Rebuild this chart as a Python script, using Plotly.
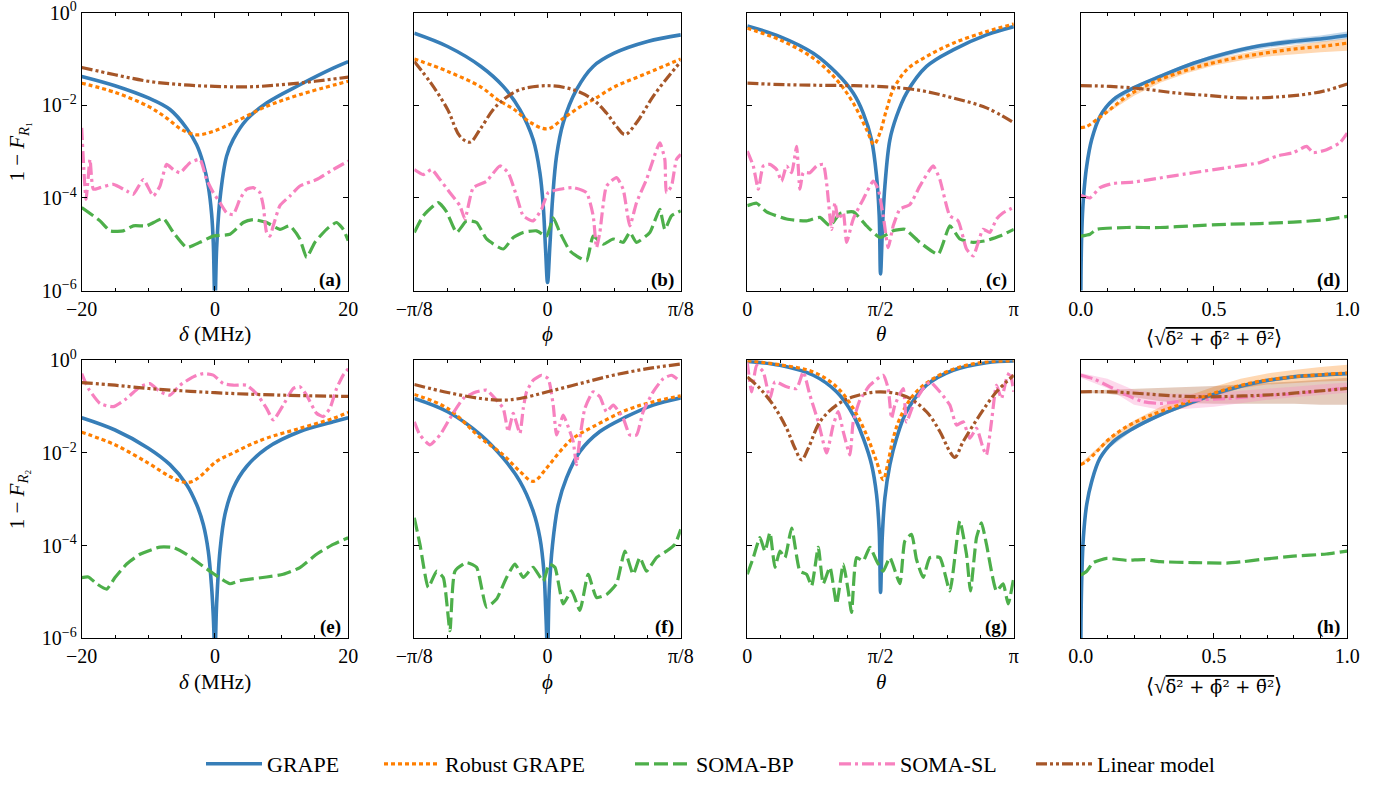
import numpy as np
import plotly.graph_objects as go

# ---------------- data ----------------
# (a) row 1, detuning delta in MHz
a_grape_x = [-20, -15, -10, -6.75, -4.25, -2.75, -1.75, -1, -0.5, -0.25, 0, 0.25, 0.75, 1.75, 2.75, 4.75, 7.75, 12.75, 17.75, 20]
a_grape_y = [0.042, 0.0265, 0.0144, 0.0081, 0.0032, 0.0014, 0.00055, 0.00018, 4.5e-5, 1.1e-5, 5e-7, 8e-6, 9.4e-5, 8e-4, 0.00183, 0.0049, 0.0112, 0.0278, 0.0635, 0.088]
a_robust_x = [-20, -15, -10, -7.25, -5, -2.75, -0.25, 2.75, 7.75, 12.75, 20]
a_robust_y = [0.030, 0.019, 0.0095, 0.0053, 0.003, 0.0023, 0.00275, 0.0042, 0.0095, 0.017, 0.033]
a_bp_x = [-20, -17.25, -15.75, -13.75, -12.25, -10.25, -7.75, -6.25, -4.25, -2.25, -0.25, 2.25, 4.25, 5.75, 7.75, 9.75, 11.25, 12.75, 13.75, 15, 16.75, 18.25, 19.25, 20]
a_bp_y = [6.2e-5, 3.2e-5, 1.95e-5, 1.95e-5, 2.5e-5, 2.5e-5, 3.6e-5, 1.8e-5, 8.5e-6, 1.1e-5, 1.5e-5, 1.65e-5, 2.95e-5, 3.4e-5, 2.95e-5, 2.1e-5, 2.5e-5, 1.3e-5, 5.2e-6, 1.1e-5, 2.1e-5, 2.95e-5, 2.1e-5, 1.2e-5]
a_sl_x = [-20, -19.35, -18.75, -18.25, -17.25, -15.25, -13.25, -12.25, -10.75, -9.25, -8.25, -7.25, -6.25, -5.25, -3.75, -2.25, -1.25, -0.25, 0.75, 1.75, 2.75, 3.75, 4.75, 5.75, 6.75, 7.25, 7.75, 8.25, 8.75, 9.75, 11.25, 12.75, 15.25, 17.75, 20]
a_sl_y = [3.26e-3, 9.4e-5, 6.8e-4, 1.54e-4, 1.67e-4, 1.97e-4, 1.41e-4, 1.2e-4, 2.5e-4, 1.1e-4, 1.81e-4, 5.3e-4, 4.1e-4, 3.5e-4, 5.75e-4, 6.8e-4, 2.5e-4, 1.3e-4, 7.9e-5, 4.8e-5, 4.4e-5, 9.4e-5, 1.54e-4, 1.67e-4, 1.3e-4, 6.8e-5, 1.8e-5, 1.5e-5, 2.5e-5, 6.8e-5, 1.1e-4, 1.81e-4, 2.5e-4, 4.1e-4, 6.25e-4]
a_lin_x = [-20, -15, -10, -5, 0, 5, 10, 15, 20]
a_lin_y = [0.0656, 0.0457, 0.033, 0.0278, 0.0256, 0.025, 0.0278, 0.033, 0.0405]

# (b) row 1, phi in units of pi/8
b_grape_u = [-1, -0.75, -0.5, -0.3325, -0.2075, -0.1075, -0.0575, -0.0325, -0.015, 0, 0.0175, 0.0375, 0.0675, 0.1175, 0.2175, 0.3425, 0.5, 0.75, 1]
b_grape_y = [0.36, 0.186, 0.069, 0.0256, 0.0081, 0.0018, 3.5e-4, 6.8e-5, 7.9e-6, 1.5e-6, 9.3e-6, 9.4e-5, 8e-4, 4.2e-3, 0.0218, 0.069, 0.133, 0.238, 0.331]
b_robust_u = [-1, -0.75, -0.5, -0.375, -0.25, -0.125, 0, 0.125, 0.25, 0.3425, 0.5, 0.75, 1]
b_robust_y = [0.1, 0.054, 0.0248, 0.0132, 0.0081, 0.0042, 0.0031, 0.0054, 0.0095, 0.0132, 0.0248, 0.0496, 0.1]
b_bp_u = [-1, -0.9325, -0.82, -0.7575, -0.6825, -0.6075, -0.5325, -0.4575, -0.3325, -0.2575, -0.1825, -0.0825, -0.0075, 0.0425, 0.0925, 0.1675, 0.2175, 0.2925, 0.3425, 0.4175, 0.4925, 0.5675, 0.6175, 0.6675, 0.7675, 0.8425, 0.88, 0.93, 1]
b_bp_y = [1.8e-5, 4.1e-5, 7.9e-5, 5e-5, 1.8e-5, 3.2e-5, 2.95e-5, 1.3e-5, 7.9e-6, 1.4e-5, 1.8e-5, 1.95e-5, 1.5e-5, 3.7e-5, 1.8e-5, 7.2e-6, 5.6e-6, 4.4e-6, 1.5e-5, 1e-5, 1.3e-5, 1.1e-5, 1.8e-5, 1.1e-5, 1.8e-5, 5.7e-5, 2.1e-5, 4.1e-5, 5.25e-5]
b_sl_u = [-1, -0.9325, -0.87, -0.8075, -0.7325, -0.6575, -0.62, -0.5575, -0.4575, -0.3575, -0.295, -0.2325, -0.1825, -0.1075, -0.045, 0.005, 0.0925, 0.1925, 0.2925, 0.3425, 0.3675, 0.3925, 0.4425, 0.5175, 0.5675, 0.6175, 0.6675, 0.7425, 0.8425, 0.88, 0.8925, 0.93, 0.9675, 1]
b_sl_y = [4.1e-4, 3.2e-4, 4.1e-4, 2.5e-4, 1.3e-4, 6.8e-5, 3.5e-5, 1.67e-4, 2.3e-4, 4.9e-4, 3.5e-4, 1.1e-4, 4.1e-5, 3.2e-5, 5.7e-5, 1.3e-4, 1.54e-4, 1.67e-4, 1.3e-4, 4.1e-5, 8.5e-6, 1.8e-5, 1.8e-4, 2.75e-4, 1.54e-4, 2.5e-5, 7.9e-5, 2.5e-4, 1.55e-3, 6.8e-4, 1.3e-4, 1.8e-4, 6.8e-4, 8.7e-4]
b_lin_u = [-1, -0.875, -0.75, -0.6575, -0.5825, -0.5075, -0.4075, -0.3325, -0.2075, 0, 0.1925, 0.3425, 0.4425, 0.5175, 0.58, 0.6675, 0.7925, 0.9175, 1]
b_lin_y = [0.088, 0.030, 0.0081, 0.00215, 0.0016, 0.003, 0.0081, 0.0132, 0.0217, 0.0265, 0.0217, 0.0132, 0.0068, 0.0035, 0.00234, 0.0042, 0.0156, 0.0457, 0.088]

# (c) row 1, theta in units of pi
c_grape_t = [0, 0.1225, 0.2475, 0.335, 0.3975, 0.435, 0.46625, 0.485, 0.495, 0.5, 0.5075, 0.51625, 0.535, 0.56, 0.5975, 0.6725, 0.7725, 0.8975, 1]
c_grape_y = [0.517, 0.305, 0.133, 0.0496, 0.0184, 0.0068, 0.0018, 2.95e-4, 4.1e-5, 2.3e-6, 2.5e-5, 1.8e-4, 0.0018, 0.0058, 0.0184, 0.069, 0.157, 0.331, 0.5]
c_robust_t = [0, 0.1225, 0.2475, 0.335, 0.3975, 0.4475, 0.475, 0.4975, 0.5225, 0.5475, 0.5975, 0.6725, 0.7725, 0.8975, 1]
c_robust_y = [0.46, 0.258, 0.104, 0.0356, 0.0112, 0.003, 0.00143, 0.0025, 0.0081, 0.0217, 0.058, 0.113, 0.219, 0.39, 0.57]
c_bp_t = [0, 0.035, 0.0725, 0.1475, 0.2225, 0.2725, 0.31, 0.3475, 0.3975, 0.4475, 0.4975, 0.5475, 0.59125, 0.6475, 0.71625, 0.76, 0.7975, 0.8475, 0.8975, 0.9475, 1]
c_bp_y = [6.8e-5, 7.7e-5, 5e-5, 3.5e-5, 3.2e-5, 3.8e-5, 2.5e-5, 4.6e-5, 5e-5, 2.5e-5, 1.4e-5, 1.95e-5, 2.1e-5, 1.1e-5, 6.1e-6, 2.5e-5, 1.3e-5, 1.1e-5, 1.2e-5, 1.5e-5, 2.1e-5]
c_sl_t = [0, 0.0225, 0.04125, 0.06, 0.085, 0.11, 0.12875, 0.1475, 0.16625, 0.185, 0.1975, 0.21, 0.235, 0.26, 0.285, 0.2975, 0.31625, 0.32875, 0.34125, 0.36, 0.3725, 0.3975, 0.435, 0.4725, 0.49125, 0.51, 0.52875, 0.5475, 0.5725, 0.61, 0.6475, 0.6975, 0.7225, 0.76, 0.79125, 0.8225, 0.8475, 0.885, 0.91, 0.935, 0.96, 0.985, 1]
c_sl_y = [1.03e-3, 4.9e-4, 1.54e-4, 4.9e-4, 5.3e-4, 4.1e-4, 2.3e-4, 4.9e-4, 3.5e-4, 1.3e-3, 1.54e-4, 3.5e-4, 3.5e-4, 4.9e-4, 5.3e-4, 2.1e-4, 2.1e-5, 7.9e-5, 3.5e-5, 4.8e-5, 1.1e-5, 3.5e-5, 9.4e-5, 2.3e-4, 1.54e-4, 4.1e-5, 8.5e-6, 2.5e-5, 5.7e-5, 7.2e-5, 1.8e-4, 4.9e-4, 2.5e-4, 4.1e-5, 3.2e-5, 7.9e-6, 5.6e-6, 2.1e-5, 1.8e-5, 3.5e-5, 4.8e-5, 5.7e-5, 6.3e-5]
c_lin_t = [0, 0.1475, 0.2725, 0.3975, 0.5225, 0.6475, 0.7725, 0.8975, 1]
c_lin_y = [0.030, 0.0278, 0.027, 0.0265, 0.025, 0.021, 0.0144, 0.0088, 0.0042]

# (d) row 1, mean combined error
d_grape_x = [0, 0.001, 0.004, 0.01, 0.0225, 0.041, 0.0725, 0.1225, 0.1975, 0.2975, 0.4225, 0.5475, 0.6725, 0.7975, 0.9225, 1.0]
d_grape_y = [3e-7, 2e-6, 1.8e-5, 9.4e-5, 4.9e-4, 1.8e-3, 0.0058, 0.0133, 0.0237, 0.042, 0.081, 0.133, 0.192, 0.238, 0.28, 0.32]
d_robust_x = [0, 0.0225, 0.06, 0.11, 0.1725, 0.235, 0.2975, 0.4225, 0.5475, 0.6725, 0.7975, 0.9225, 1]
d_robust_y = [3.3e-3, 3.5e-3, 4.9e-3, 8.1e-3, 0.0156, 0.0248, 0.036, 0.0635, 0.096, 0.129, 0.163, 0.192, 0.22]
d_bp_x = [0, 0.035, 0.06, 0.1725, 0.2975, 0.4225, 0.5475, 0.6725, 0.7975, 0.9225, 1]
d_bp_y = [1.5e-5, 1.65e-5, 2.1e-5, 2.3e-5, 2.3e-5, 2.5e-5, 2.7e-5, 2.8e-5, 3.0e-5, 3.4e-5, 4e-5]
d_sl_x = [0, 0.035, 0.0725, 0.1225, 0.1975, 0.2975, 0.4225, 0.5475, 0.6725, 0.735, 0.7975, 0.8475, 0.8725, 0.9225, 0.9725, 1]
d_sl_y = [1.15e-4, 1.0e-4, 1.67e-4, 2.06e-4, 2.2e-4, 2.7e-4, 3.5e-4, 4.5e-4, 5.8e-4, 8e-4, 9.5e-4, 1.3e-3, 9.5e-4, 1.1e-3, 1.55e-3, 2.5e-3]
d_lin_x = [0, 0.11, 0.235, 0.36, 0.485, 0.61, 0.735, 0.86, 0.9225, 1]
d_lin_y = [0.0265, 0.0256, 0.0225, 0.0184, 0.0162, 0.0144, 0.0151, 0.0178, 0.021, 0.0288]
d_band_x = [0.1, 0.2, 0.3, 0.4, 0.5, 0.6, 0.7, 0.8, 0.9, 1.0]
d_grape_hi = [0.0102, 0.026, 0.047, 0.08, 0.125, 0.177, 0.23, 0.28, 0.32, 0.39]
d_grape_lo = [0.0092, 0.022, 0.039, 0.065, 0.098, 0.137, 0.175, 0.205, 0.23, 0.27]
d_robust_hi = [0.0078, 0.02, 0.04, 0.066, 0.098, 0.13, 0.165, 0.2, 0.235, 0.275]
d_robust_lo = [0.0068, 0.016, 0.031, 0.05, 0.072, 0.093, 0.113, 0.128, 0.14, 0.15]

# (e) row 2, delta in MHz
e_grape_x = [-20, -15, -10, -6.75, -4.25, -2.75, -1.75, -1, -0.5, -0.25, 0, 0.25, 0.75, 1.5, 2.75, 4.75, 7.75, 12.75, 17.75, 20]
e_grape_y = [0.0576, 0.0313, 0.0127, 0.0056, 0.00207, 7.7e-4, 2.86e-4, 7.6e-5, 1.25e-5, 3e-6, 5e-7, 5.5e-6, 7.6e-5, 4.7e-4, 1.75e-3, 5.1e-3, 0.0127, 0.029, 0.047, 0.0576]
e_robust_x = [-20, -15, -10, -6.75, -4.75, -3.5, -2.25, 0.25, 2.75, 5.25, 7.75, 12.75, 17.75, 20]
e_robust_y = [0.028, 0.015, 0.006, 0.0031, 0.00236, 0.0024, 0.0031, 0.0066, 0.01, 0.015, 0.0209, 0.034, 0.056, 0.075]
e_bp_x = [-20, -19, -17.75, -16.25, -15, -13.25, -11.25, -8.25, -6.25, -4.25, -2.25, -0.25, 2.25, 3.75, 7.75, 10.25, 12.75, 15.25, 17.75, 20]
e_bp_y = [2.04e-5, 2.1e-5, 1.5e-5, 1.15e-5, 2.04e-5, 4e-5, 6.5e-5, 9.3e-5, 9.1e-5, 6.5e-5, 4e-5, 2.5e-5, 1.5e-5, 1.75e-5, 2.1e-5, 2.4e-5, 3.35e-5, 6.5e-5, 1.06e-4, 1.48e-4]
e_sl_x = [-20, -19, -17.25, -15.25, -13.25, -11.25, -9.75, -8.25, -6.75, -5.25, -3.25, -1.75, -0.25, 1.25, 2.75, 4.75, 6.25, 7.75, 8.75, 10.25, 11.75, 12.75, 13.75, 15.25, 16.25, 17.25, 18.25, 19.25, 20]
e_sl_y = [0.517, 0.246, 0.117, 0.1, 0.15, 0.27, 0.315, 0.21, 0.177, 0.29, 0.44, 0.517, 0.48, 0.315, 0.29, 0.29, 0.19, 0.0915, 0.0515, 0.108, 0.246, 0.27, 0.177, 0.072, 0.0607, 0.0915, 0.246, 0.48, 0.66]
e_lin_x = [-20, -15, -10, -5, 0, 5, 10, 15, 20]
e_lin_y = [0.331, 0.29, 0.246, 0.22, 0.2, 0.186, 0.177, 0.171, 0.166]

# (f) row 2, phi in units of pi/8
f_grape_u = [-1, -0.75, -0.5, -0.3325, -0.2075, -0.1075, -0.0575, -0.0275, -0.0125, 0, 0.0125, 0.0375, 0.08, 0.1425, 0.2425, 0.3925, 0.5925, 0.7925, 1]
f_grape_y = [0.15, 0.0776, 0.0244, 0.0077, 0.00244, 5.5e-4, 1.48e-4, 2.8e-5, 3.3e-6, 5e-7, 1.05e-5, 1.06e-4, 7.7e-4, 2.9e-3, 0.0107, 0.029, 0.0607, 0.108, 0.155]
f_robust_u = [-1, -0.75, -0.5, -0.3325, -0.2075, -0.1075, -0.0075, 0.0925, 0.1925, 0.3425, 0.5925, 0.7925, 1]
f_robust_y = [0.183, 0.0914, 0.0209, 0.0091, 0.004, 0.00244, 0.0047, 0.0107, 0.0209, 0.037, 0.0843, 0.127, 0.171]
f_bp_u = [-1, -0.9575, -0.895, -0.8325, -0.7825, -0.7325, -0.695, -0.6075, -0.5325, -0.4575, -0.3825, -0.3075, -0.245, -0.1825, -0.1075, -0.0325, 0.0125, 0.055, 0.1175, 0.18, 0.2425, 0.305, 0.3675, 0.4425, 0.5175, 0.58, 0.6425, 0.6925, 0.7425, 0.8175, 0.8925, 0.955, 1]
f_bp_y = [4e-4, 1.06e-4, 1.25e-5, 2.8e-5, 2.05e-5, 1.46e-6, 2.8e-5, 4.3e-5, 3.4e-5, 4.7e-6, 7e-6, 2.05e-5, 4e-5, 2.05e-5, 3.4e-5, 1.7e-5, 4e-5, 3.4e-5, 5.5e-6, 1.05e-5, 4e-6, 2.4e-5, 7.6e-6, 8.8e-6, 1.5e-5, 7.6e-5, 2.4e-5, 5.5e-5, 2.8e-5, 5.5e-5, 7.6e-5, 1.06e-4, 2.24e-4]
f_sl_u = [-1, -0.9575, -0.8825, -0.8075, -0.7325, -0.6325, -0.5325, -0.4575, -0.3825, -0.3325, -0.295, -0.2575, -0.2075, -0.1825, -0.1575, -0.1075, -0.045, 0.005, 0.0425, 0.0675, 0.0925, 0.1175, 0.1675, 0.1925, 0.2175, 0.2425, 0.28, 0.3425, 0.3925, 0.4425, 0.4925, 0.5675, 0.6175, 0.6675, 0.7175, 0.7925, 0.8675, 0.93, 1]
f_sl_y = [0.047, 0.0244, 0.015, 0.0244, 0.056, 0.15, 0.209, 0.227, 0.138, 0.0914, 0.029, 0.0714, 0.0266, 0.0914, 0.209, 0.372, 0.476, 0.4, 0.108, 0.0244, 0.04, 0.066, 0.029, 0.0176, 0.0056, 0.0208, 0.0914, 0.209, 0.163, 0.0776, 0.108, 0.056, 0.0244, 0.0244, 0.0776, 0.209, 0.4, 0.476, 0.343]
f_lin_u = [-1, -0.75, -0.5, -0.3325, -0.2075, 0, 0.2425, 0.4925, 0.75, 1]
f_lin_y = [0.3, 0.202, 0.15, 0.138, 0.15, 0.209, 0.315, 0.476, 0.66, 0.834]

# (g) row 2, theta in units of pi
g_grape_t = [0, 0.1225, 0.2475, 0.335, 0.3975, 0.435, 0.46625, 0.485, 0.495, 0.5, 0.50625, 0.51625, 0.535, 0.56, 0.5975, 0.6725, 0.7725, 0.8975, 1]
g_grape_y = [0.95, 0.78, 0.476, 0.209, 0.066, 0.0208, 0.0056, 1.26e-3, 2.05e-4, 9.8e-6, 1.48e-4, 1.07e-3, 0.0056, 0.0208, 0.0776, 0.29, 0.61, 0.89, 0.97]
g_robust_t = [0, 0.1225, 0.2475, 0.335, 0.3975, 0.4475, 0.485, 0.51, 0.52875, 0.5475, 0.5725, 0.6225, 0.6975, 0.7975, 0.8975, 1]
g_robust_y = [0.98, 0.8, 0.56, 0.268, 0.0914, 0.0245, 0.0066, 0.00265, 0.0066, 0.0208, 0.056, 0.177, 0.404, 0.72, 0.92, 0.98]
g_bp_t = [0, 0.0225, 0.0475, 0.06625, 0.085, 0.10375, 0.1225, 0.14125, 0.16625, 0.1975, 0.2225, 0.24125, 0.26625, 0.285, 0.31, 0.335, 0.36, 0.37875, 0.39125, 0.41, 0.435, 0.46, 0.485, 0.51, 0.535, 0.5725, 0.59125, 0.61625, 0.635, 0.66, 0.685, 0.7225, 0.76, 0.7975, 0.8225, 0.8375, 0.86, 0.87875, 0.8975, 0.935, 0.96, 0.97875, 1]
g_bp_y = [2.4e-5, 5.5e-5, 1.48e-4, 7.6e-5, 1.9e-4, 3.4e-5, 7.6e-5, 5.5e-5, 2.4e-4, 2.8e-5, 2.4e-5, 1.35e-5, 9.2e-5, 1.5e-5, 3.4e-5, 5.5e-6, 4e-5, 1.05e-5, 3.6e-6, 5.5e-5, 4.7e-5, 9.2e-5, 4.7e-5, 2.8e-5, 5.5e-5, 1.5e-5, 1.26e-4, 1.75e-4, 5e-5, 2.05e-5, 5.5e-5, 5.5e-5, 1.05e-5, 3.4e-4, 6.5e-5, 1.05e-5, 1.48e-4, 3.1e-4, 1.06e-4, 1.05e-5, 1.5e-5, 5.5e-6, 2.05e-5]
g_sl_t = [0, 0.01625, 0.035, 0.06, 0.085, 0.10375, 0.1475, 0.185, 0.21, 0.235, 0.26625, 0.2975, 0.3225, 0.34125, 0.36, 0.385, 0.3975, 0.4225, 0.46, 0.51, 0.52875, 0.54125, 0.55375, 0.585, 0.5975, 0.6225, 0.66, 0.685, 0.7225, 0.76, 0.785, 0.81, 0.835, 0.86, 0.885, 0.8975, 0.91625, 0.935, 0.95375, 0.9725, 0.985, 1]
g_sl_y = [0.89, 0.209, 0.78, 0.56, 0.15, 0.343, 0.268, 0.246, 0.56, 0.177, 0.047, 0.01, 0.04, 0.078, 0.029, 0.0091, 0.047, 0.138, 0.29, 0.476, 0.246, 0.056, 0.108, 0.246, 0.047, 0.108, 0.246, 0.343, 0.209, 0.108, 0.04, 0.047, 0.0208, 0.034, 0.0126, 0.0091, 0.047, 0.29, 0.15, 0.4, 0.56, 0.209]
g_lin_t = [0, 0.0475, 0.0975, 0.1475, 0.17875, 0.20375, 0.22875, 0.2725, 0.335, 0.3975, 0.5, 0.5975, 0.6725, 0.7225, 0.76, 0.77875, 0.81, 0.8725, 0.935, 1]
g_lin_y = [0.438, 0.246, 0.108, 0.034, 0.0126, 0.0071, 0.0126, 0.047, 0.108, 0.163, 0.209, 0.163, 0.0776, 0.029, 0.0107, 0.008, 0.0176, 0.0661, 0.209, 0.476]

# (h) row 2, mean combined error
h_grape_x = [0, 0.001, 0.004, 0.01, 0.0225, 0.041, 0.0725, 0.1225, 0.1975, 0.2975, 0.4225, 0.5475, 0.6725, 0.7975, 0.9225, 1]
h_grape_y = [3e-7, 2e-6, 2e-5, 1.48e-4, 7.7e-4, 2.4e-3, 7.7e-3, 0.0176, 0.034, 0.066, 0.127, 0.227, 0.343, 0.44, 0.49, 0.517]
h_robust_x = [0, 0.0225, 0.06, 0.11, 0.1725, 0.235, 0.2975, 0.4225, 0.5475, 0.6725, 0.7975, 0.9225, 1]
h_robust_y = [5.6e-3, 6.6e-3, 0.0107, 0.0208, 0.037, 0.056, 0.078, 0.138, 0.238, 0.354, 0.44, 0.5, 0.53]
h_bp_x = [0, 0.0225, 0.0475, 0.0975, 0.1725, 0.235, 0.2975, 0.4225, 0.5475, 0.61, 0.6725, 0.7975, 0.9225, 1]
h_bp_y = [2.3e-5, 2.8e-5, 4.3e-5, 5.3e-5, 4.8e-5, 5e-5, 4.5e-5, 4.3e-5, 4.2e-5, 4.5e-5, 5e-5, 5.9e-5, 6.6e-5, 7.6e-5]
h_sl_x = [0, 0.0475, 0.11, 0.1725, 0.235, 0.2975, 0.36, 0.4225, 0.5475, 0.6725, 0.7975, 0.9225, 1]
h_sl_y = [0.476, 0.4, 0.268, 0.177, 0.127, 0.117, 0.127, 0.138, 0.15, 0.17, 0.19, 0.227, 0.255]
h_lin_x = [0, 0.11, 0.235, 0.36, 0.485, 0.61, 0.735, 0.86, 1]
h_lin_y = [0.209, 0.209, 0.19, 0.17, 0.163, 0.17, 0.183, 0.209, 0.246]
h_band_x = [0, 0.1, 0.2, 0.3, 0.4, 0.5, 0.6, 0.7, 0.8, 0.9, 1.0]
h_grape_band_x = [0.1, 0.2, 0.3, 0.4, 0.5, 0.6, 0.7, 0.8, 0.9, 1.0]
h_grape_hi = [0.014, 0.038, 0.073, 0.125, 0.195, 0.29, 0.39, 0.47, 0.52, 0.56]
h_grape_lo = [0.012, 0.032, 0.061, 0.105, 0.165, 0.25, 0.33, 0.41, 0.445, 0.48]
h_robust_hi = [0.006, 0.02, 0.05, 0.1, 0.17, 0.27, 0.4, 0.52, 0.62, 0.72, 0.8]
h_robust_lo = [0.0053, 0.016, 0.035, 0.065, 0.1, 0.17, 0.25, 0.3, 0.33, 0.35, 0.36]
h_lin_hi = [0.22, 0.23, 0.24, 0.25, 0.26, 0.28, 0.3, 0.32, 0.35, 0.38, 0.42]
h_lin_lo = [0.2, 0.19, 0.16, 0.13, 0.12, 0.115, 0.115, 0.115, 0.115, 0.11, 0.11]
h_sl_hi = [0.53, 0.4, 0.23, 0.19, 0.19, 0.2, 0.22, 0.24, 0.27, 0.3, 0.33]
h_sl_lo = [0.42, 0.25, 0.11, 0.085, 0.09, 0.1, 0.12, 0.14, 0.16, 0.18, 0.2]

series_names = ["GRAPE", "Robust GRAPE", "SOMA-BP", "SOMA-SL", "Linear model"]
panel_labels = ["(a)", "(b)", "(c)", "(d)", "(e)", "(f)", "(g)", "(h)"]
y_tick_vals = [1, 1e-2, 1e-4, 1e-6]
y_tick_text = ["10<sup>0</sup>", "10<sup>−2</sup>", "10<sup>−4</sup>", "10<sup>−6</sup>"]

# ---------------- styling / layout ----------------
PI = np.pi
W, H = 1390, 785
COL_LEFT = [81.7, 414.3, 747.3, 1080.7]
PW = 266.5
ROW_TOP = [12.7, 361.7]
PH = 279.0
FONT = "Liberation Serif"

colors = {"GRAPE": "#377eb8", "Robust GRAPE": "#ff7f00", "SOMA-BP": "#4daf4a",
          "SOMA-SL": "#f781bf", "Linear model": "#a65628"}
fills = {"GRAPE": "rgba(55,126,184,0.30)", "Robust GRAPE": "rgba(255,127,0,0.30)",
         "SOMA-SL": "rgba(247,129,191,0.30)", "Linear model": "rgba(166,86,40,0.30)"}
lines = {
    "GRAPE": dict(width=3.6, dash="solid", shape="spline", smoothing=1.0),
    "Robust GRAPE": dict(width=3.2, dash="4px,3px", shape="spline", smoothing=1.0),
    "SOMA-BP": dict(width=3.2, dash="14px,5px", shape="spline", smoothing=0.5),
    "SOMA-SL": dict(width=3.2, dash="12px,4px,3px,4px", shape="spline", smoothing=0.5),
    "Linear model": dict(width=3.2, dash="11px,3px,3px,3px,3px,3px", shape="spline", smoothing=1.0),
}


def phi(u):
    return [v * PI / 8 for v in u]


def th(t):
    return [v * PI for v in t]


panels = [
    {"GRAPE": (a_grape_x, a_grape_y), "Robust GRAPE": (a_robust_x, a_robust_y), "SOMA-BP": (a_bp_x, a_bp_y),
     "SOMA-SL": (a_sl_x, a_sl_y), "Linear model": (a_lin_x, a_lin_y)},
    {"GRAPE": (phi(b_grape_u), b_grape_y), "Robust GRAPE": (phi(b_robust_u), b_robust_y), "SOMA-BP": (phi(b_bp_u), b_bp_y),
     "SOMA-SL": (phi(b_sl_u), b_sl_y), "Linear model": (phi(b_lin_u), b_lin_y)},
    {"GRAPE": (th(c_grape_t), c_grape_y), "Robust GRAPE": (th(c_robust_t), c_robust_y), "SOMA-BP": (th(c_bp_t), c_bp_y),
     "SOMA-SL": (th(c_sl_t), c_sl_y), "Linear model": (th(c_lin_t), c_lin_y)},
    {"GRAPE": (d_grape_x, d_grape_y), "Robust GRAPE": (d_robust_x, d_robust_y), "SOMA-BP": (d_bp_x, d_bp_y),
     "SOMA-SL": (d_sl_x, d_sl_y), "Linear model": (d_lin_x, d_lin_y)},
    {"GRAPE": (e_grape_x, e_grape_y), "Robust GRAPE": (e_robust_x, e_robust_y), "SOMA-BP": (e_bp_x, e_bp_y),
     "SOMA-SL": (e_sl_x, e_sl_y), "Linear model": (e_lin_x, e_lin_y)},
    {"GRAPE": (phi(f_grape_u), f_grape_y), "Robust GRAPE": (phi(f_robust_u), f_robust_y), "SOMA-BP": (phi(f_bp_u), f_bp_y),
     "SOMA-SL": (phi(f_sl_u), f_sl_y), "Linear model": (phi(f_lin_u), f_lin_y)},
    {"GRAPE": (th(g_grape_t), g_grape_y), "Robust GRAPE": (th(g_robust_t), g_robust_y), "SOMA-BP": (th(g_bp_t), g_bp_y),
     "SOMA-SL": (th(g_sl_t), g_sl_y), "Linear model": (th(g_lin_t), g_lin_y)},
    {"GRAPE": (h_grape_x, h_grape_y), "Robust GRAPE": (h_robust_x, h_robust_y), "SOMA-BP": (h_bp_x, h_bp_y),
     "SOMA-SL": (h_sl_x, h_sl_y), "Linear model": (h_lin_x, h_lin_y)},
]
bands = {
    3: [("GRAPE", d_band_x, d_grape_lo, d_grape_hi), ("Robust GRAPE", d_band_x, d_robust_lo, d_robust_hi)],
    7: [("GRAPE", h_grape_band_x, h_grape_lo, h_grape_hi), ("Robust GRAPE", h_band_x, h_robust_lo, h_robust_hi),
        ("Linear model", h_band_x, h_lin_lo, h_lin_hi), ("SOMA-SL", h_band_x, h_sl_lo, h_sl_hi)],
}

d_title = ("⟨√<span style='text-decoration:overline;font-family:DejaVu Serif;font-size:18px'>"
           "δ̄² + ϕ̄² + θ̄²</span>⟩")

xcfg = [
    dict(range=[-20, 20], tickvals=[-20, 0, 20], ticktext=["−20", "0", "20"], tick0=-20, minor_dtick=5,
         title="<i>δ</i> (MHz)"),
    dict(range=[-PI / 8, PI / 8], tickvals=[-PI / 8, 0, PI / 8], ticktext=["−π/8", "0", "π/8"], tick0=-PI / 8,
         minor_dtick=PI / 32, title="<i>ϕ</i>"),
    dict(range=[0, PI], tickvals=[0, PI / 2, PI], ticktext=["0", "π/2", "π"], tick0=0, minor_dtick=PI / 8,
         title="<i>θ</i>"),
    dict(range=[0, 1], tickvals=[0, 0.5, 1], ticktext=["0.0", "0.5", "1.0"], tick0=0, minor_dtick=0.1,
         title=d_title),
]

fig = go.Figure()
legend_ids = ["legend", "legend2", "legend3", "legend4", "legend5"]

for p in range(8):
    xa = "x" if p == 0 else f"x{p + 1}"
    ya = "y" if p == 0 else f"y{p + 1}"
    for name, bx, lo, hi in bands.get(p, []):
        fig.add_trace(go.Scatter(x=list(bx) + list(bx)[::-1], y=list(hi) + list(lo)[::-1], fill="toself",
                                 fillcolor=fills[name], line=dict(width=0), mode="lines", hoverinfo="skip",
                                 showlegend=False, xaxis=xa, yaxis=ya))
    for k, name in enumerate(series_names):
        xs, ys = panels[p][name]
        fig.add_trace(go.Scatter(x=xs, y=ys, mode="lines", name=name,
                                 line=dict(color=colors[name], **lines[name]),
                                 showlegend=(p == 0), legend=legend_ids[k], xaxis=xa, yaxis=ya))

layout = dict(width=W, height=H, margin=dict(l=0, r=0, t=0, b=0), template="none",
              paper_bgcolor="white", plot_bgcolor="white", font=dict(family=FONT, size=20, color="black"))
annotations = []
for p in range(8):
    r, c = divmod(p, 4)
    x0 = COL_LEFT[c] / W
    x1 = (COL_LEFT[c] + PW) / W
    y0 = 1 - (ROW_TOP[r] + PH) / H
    y1 = 1 - ROW_TOP[r] / H
    xk = "xaxis" if p == 0 else f"xaxis{p + 1}"
    yk = "yaxis" if p == 0 else f"yaxis{p + 1}"
    ya = "y" if p == 0 else f"y{p + 1}"
    xa = "x" if p == 0 else f"x{p + 1}"
    cfg = xcfg[c]
    layout[xk] = dict(domain=[x0, x1], anchor=ya, range=cfg["range"], tickmode="array", tickvals=cfg["tickvals"],
                      ticktext=cfg["ticktext"], ticks="inside", ticklen=5, tickwidth=1, tickcolor="black",
                      showline=True, linecolor="black", linewidth=1, mirror="ticks", showgrid=False, zeroline=False,
                      tickfont=dict(family=FONT, size=20), ticklabeloverflow="allow",
                      minor=dict(ticks="inside", ticklen=3, tickwidth=1, tickcolor="black", tick0=cfg["tick0"],
                                 dtick=cfg["minor_dtick"], showgrid=False))
    layout[yk] = dict(domain=[y0, y1], anchor=xa, type="log", range=[-6, 0], tickmode="array",
                      tickvals=y_tick_vals, ticktext=y_tick_text, showticklabels=(c == 0),
                      ticks="inside", ticklen=5, tickwidth=1, tickcolor="black", showline=True, linecolor="black",
                      linewidth=1, mirror="ticks", showgrid=False, zeroline=False, ticklabeloverflow="allow",
                      tickfont=dict(family=FONT, size=20))
    annotations.append(dict(text="<b>" + panel_labels[p] + "</b>", xref="paper", yref="paper",
                            x=(COL_LEFT[c] + PW - 5) / W, y=1 - (ROW_TOP[r] + PH - 11) / H,
                            xanchor="right", yanchor="middle", showarrow=False, font=dict(family=FONT, size=19)))
    annotations.append(dict(text=cfg["title"], xref="paper", yref="paper",
                            x=(COL_LEFT[c] + PW / 2) / W, y=1 - (ROW_TOP[r] + PH + (48 if c == 3 else 44)) / H,
                            xanchor="center", yanchor="middle", showarrow=False, font=dict(family=FONT, size=21)))
for r in range(2):
    annotations.append(dict(text="1 − <i>F</i><sub><i>R</i>" + ("₁" if r == 0 else "₂") + "</sub>",
                            xref="paper", yref="paper", x=18 / W, y=1 - (ROW_TOP[r] + PH / 2) / H,
                            xanchor="center", yanchor="middle", textangle=-90, showarrow=False,
                            font=dict(family=FONT, size=21)))
layout["annotations"] = annotations

legend_left_px = [201, 379, 630, 834, 1031]
for k, lid in enumerate(legend_ids):
    layout[lid] = dict(x=legend_left_px[k] / W, y=1 - 767 / H, xanchor="left", yanchor="middle",
                       orientation="h", bgcolor="rgba(0,0,0,0)", borderwidth=0,
                       font=dict(family=FONT, size=22), itemwidth=56)

fig.update_layout(**layout)
fig.write_html("out.html")
